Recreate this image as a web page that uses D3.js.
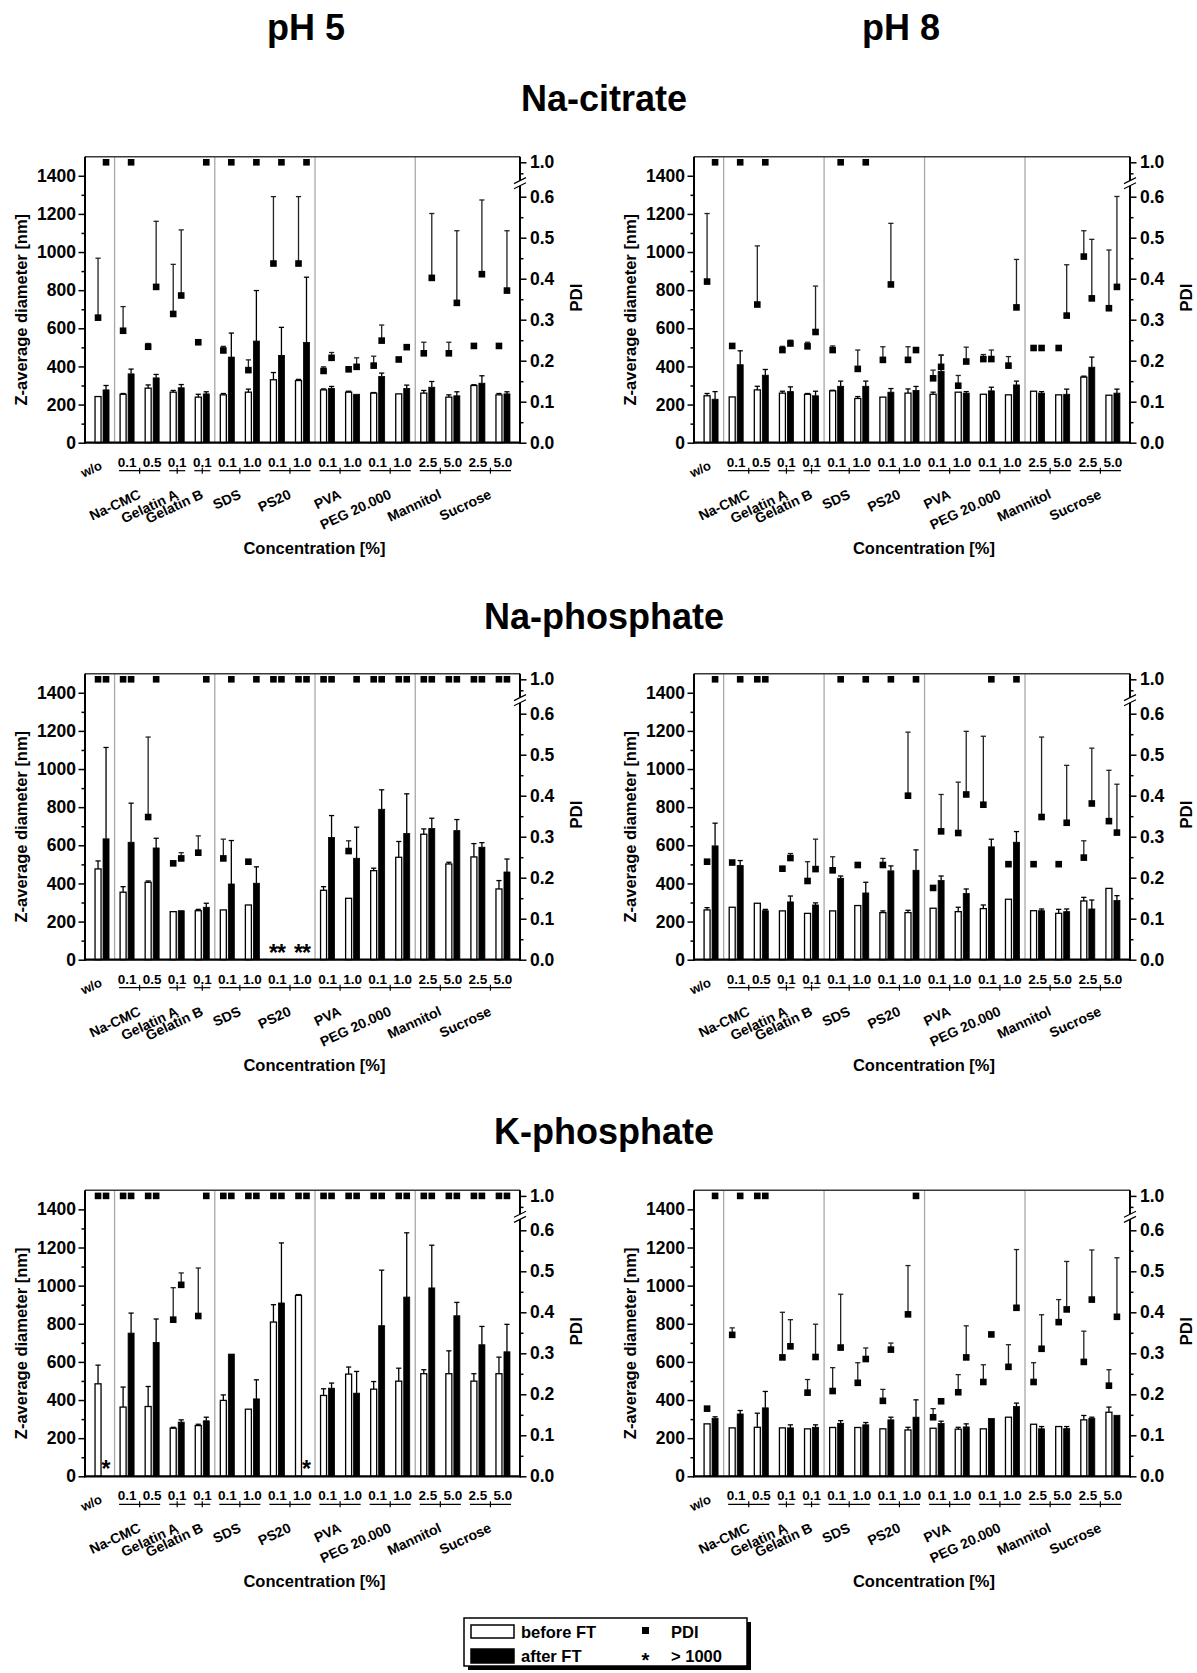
<!DOCTYPE html>
<html><head><meta charset="utf-8">
<script src="https://cdn.jsdelivr.net/npm/d3@7/dist/d3.min.js"></script>
<style>
body{margin:0;background:#fff}
svg text{font-family:"Liberation Sans",Arial,Helvetica,sans-serif;font-weight:bold;fill:#000}
</style>
</head><body>
<svg id="c" width="1197" height="1673"></svg>
<script>
// ---------- categories / labels ----------
const categories = ["w/o","0.1","0.5","0.1","0.1","0.1","1.0","0.1","1.0","0.1","1.0","0.1","1.0","2.5","5.0","2.5","5.0"];
const excipients = ["Na-CMC","Gelatin A","Gelatin B","SDS","PS20","PVA","PEG 20.000","Mannitol","Sucrose"];
const excipientMembers = [[1,2],[3],[4],[5,6],[7,8],[9,10],[11,12],[13,14],[15,16]];
const separatorsAfter = [0,4,8,12];
const zTicks = [0,200,400,600,800,1000,1200,1400];
const zMinorTicks = [100,300,500,700,900,1100,1300];
const pdiTicks = [0,0.1,0.2,0.3,0.4,0.5,0.6,1.0];
const pdiMinorTicks = [0.05,0.15,0.25,0.35,0.45,0.55,0.95];
const columnTitles = ["pH 5","pH 8"];
const bufferTitles = ["Na-citrate","Na-phosphate","K-phosphate"];
const legendLabels = ["before FT","after FT","PDI","> 1000"];

// ---------- Na-citrate pH 5 ----------
const citrate5_zBefore    = [242,254,286,265,239,251,265,330,326,277,265,260,256,260,239,300,251];
const citrate5_zBeforeUp  = [null,258,303,274,254,258,281,368,332,282,270,263,null,274,251,304,258];
const citrate5_zAfter     = [277,361,340,288,256,449,533,458,526,284,254,347,284,291,246,312,256];
const citrate5_zAfterUp   = [300,386,358,305,267,575,798,605,868,295,null,365,302,321,267,351,267];
const citrate5_pdiBefore  = [0.305,0.273,0.234,0.314,0.245,0.225,0.177,0.437,0.437,0.175,0.179,0.188,0.203,0.218,0.218,0.236,0.236];
const citrate5_pdiBeforeUp= [0.45,0.332,0.242,0.435,null,0.235,0.202,0.602,0.602,0.185,null,0.211,null,0.245,0.245,null,null];
const citrate5_pdiAfter   = [1,1,0.38,0.359,1,1,1,1,1,0.207,0.185,0.249,0.233,0.402,0.341,0.411,0.371];
const citrate5_pdiAfterUp = [null,null,0.54,0.519,null,null,null,null,null,0.22,0.207,0.287,null,0.559,0.517,0.592,0.517];

// ---------- Na-citrate pH 8 ----------
const citrate8_zBefore    = [246,240,277,260,254,272,232,239,260,254,265,254,251,270,251,344,249];
const citrate8_zBeforeUp  = [258,null,296,270,258,275,242,null,282,265,null,null,null,null,null,349,null];
const citrate8_zAfter     = [228,409,354,268,246,296,296,265,274,374,260,272,303,260,254,396,260];
const citrate8_zAfterUp   = [268,482,384,293,270,323,323,284,295,460,268,291,323,268,281,449,281];
const citrate8_pdiBefore  = [0.393,0.236,0.337,0.226,0.235,0.226,0.18,0.202,0.202,0.157,0.139,0.204,0.188,0.231,0.231,0.454,0.328];
const citrate8_pdiBeforeUp= [0.559,null,0.48,0.235,0.245,0.236,0.226,0.234,0.234,0.177,0.164,0.215,0.21,null,null,0.517,0.47];
const citrate8_pdiAfter   = [1,1,1,0.242,0.27,1,1,0.386,0.226,0.185,0.198,0.204,0.33,0.231,0.31,0.352,0.38];
const citrate8_pdiAfterUp = [null,null,null,0.25,0.382,null,null,0.535,null,0.213,0.233,0.226,0.447,0.236,0.434,0.496,0.606];

// ---------- Na-phosphate pH 5 ----------
const naphos5_zBefore     = [476,354,406,252,257,261,287,null,null,364,322,467,537,658,502,539,371];
const naphos5_zBeforeUp   = [518,383,413,null,264,null,null,null,null,383,null,480,620,686,511,609,415];
const naphos5_zAfter      = [634,616,586,257,275,397,401,null,null,641,532,789,662,688,677,590,460];
const naphos5_zAfterUp    = [1113,821,637,null,296,625,487,null,null,756,695,891,870,742,735,614,528];
const naphos5_pdiBefore   = [1,1,0.348,0.235,0.261,0.247,0.239,1,1,1,0.265,1,1,1,1,1,1];
const naphos5_pdiBeforeUp = [null,null,0.543,null,0.302,0.294,null,null,null,null,0.29,null,null,null,null,null,null];
const naphos5_pdiAfter    = [1,1,1,0.247,1,1,1,1,1,1,1,1,1,1,1,1,1];
const naphos5_pdiAfterUp  = [null,null,null,0.261,null,null,null,null,null,null,null,null,null,null,null,null,null];

// ---------- Na-phosphate pH 8 ----------
const naphos8_zBefore     = [261,275,296,256,243,256,284,247,247,270,252,268,317,257,243,308,374];
const naphos8_zBeforeUp   = [273,null,null,null,null,null,null,256,259,null,275,287,null,null,264,327,null];
const naphos8_zAfter      = [597,494,257,303,287,427,350,466,469,415,347,592,616,257,252,266,310];
const naphos8_zAfterUp    = [716,520,264,334,298,439,406,492,576,439,371,632,672,266,266,313,336];
const naphos8_pdiBefore   = [0.239,0.237,1,0.222,0.192,0.218,0.231,0.231,0.4,0.175,0.309,0.378,0.233,0.233,0.233,0.249,0.338];
const naphos8_pdiBeforeUp = [null,null,null,null,0.239,0.251,null,0.247,0.555,null,0.433,0.545,null,null,null,0.29,0.462];
const naphos8_pdiAfter    = [1,1,1,0.248,0.221,1,1,1,1,0.313,0.403,1,1,0.348,0.334,0.381,0.31];
const naphos8_pdiAfterUp  = [null,null,null,0.259,0.294,null,null,null,null,0.403,0.557,null,null,0.543,0.474,0.516,0.428];

// ---------- K-phosphate pH 5 ----------
const kphos5_zBefore      = [485,363,366,252,266,398,352,809,949,424,536,457,499,538,538,499,538];
const kphos5_zBeforeUp    = [583,468,471,257,273,427,null,900,953,459,573,497,567,559,658,538,625];
const kphos5_zAfter       = [null,751,702,284,291,641,406,909,null,462,436,790,940,988,842,690,653];
const kphos5_zAfterUp     = [null,856,825,296,310,null,506,1224,null,489,550,1081,1277,1212,912,786,797];
const kphos5_pdiBefore    = [1,1,1,0.382,0.391,1,1,1,1,1,1,1,1,1,1,1,1];
const kphos5_pdiBeforeUp  = [null,null,null,0.46,0.508,null,null,null,null,null,null,null,null,null,null,null,null];
const kphos5_pdiAfter     = [1,1,1,0.467,1,1,1,1,1,1,1,1,1,1,1,1,1];
const kphos5_pdiAfterUp   = [null,null,null,0.496,null,null,null,null,null,null,null,null,null,null,null,null,null];

// ---------- K-phosphate pH 8 ----------
const kphos8_zBefore      = [275,254,257,254,249,256,256,249,243,252,247,249,310,273,261,296,336];
const kphos8_zBeforeUp    = [null,null,331,null,null,null,null,null,257,null,257,null,null,null,null,319,363];
const kphos8_zAfter       = [303,327,359,254,257,278,270,296,310,277,259,303,366,249,250,303,320];
const kphos8_zAfterUp     = [312,345,445,270,270,292,282,310,401,289,275,null,384,261,261,310,null];
const kphos8_pdiBefore    = [0.165,0.345,1,0.29,0.204,0.208,0.228,0.184,0.395,0.144,0.205,0.23,0.267,0.23,0.376,0.279,0.221];
const kphos8_pdiBeforeUp  = [null,0.362,null,0.4,0.236,0.265,0.277,0.212,0.514,0.165,0.248,0.272,0.321,0.277,0.431,0.354,0.26];
const kphos8_pdiAfter     = [1,1,1,0.317,0.291,0.314,0.286,0.309,1,0.183,0.29,0.346,0.411,0.311,0.407,0.431,0.389];
const kphos8_pdiAfterUp   = [null,null,null,0.382,0.371,0.444,0.313,0.325,null,null,0.367,null,0.553,0.394,0.524,0.552,0.533];

const panels = [
  {row:0,col:0,zb:citrate5_zBefore,zbu:citrate5_zBeforeUp,za:citrate5_zAfter,zau:citrate5_zAfterUp,pb:citrate5_pdiBefore,pbu:citrate5_pdiBeforeUp,pa:citrate5_pdiAfter,pau:citrate5_pdiAfterUp},
  {row:0,col:1,zb:citrate8_zBefore,zbu:citrate8_zBeforeUp,za:citrate8_zAfter,zau:citrate8_zAfterUp,pb:citrate8_pdiBefore,pbu:citrate8_pdiBeforeUp,pa:citrate8_pdiAfter,pau:citrate8_pdiAfterUp},
  {row:1,col:0,zb:naphos5_zBefore,zbu:naphos5_zBeforeUp,za:naphos5_zAfter,zau:naphos5_zAfterUp,pb:naphos5_pdiBefore,pbu:naphos5_pdiBeforeUp,pa:naphos5_pdiAfter,pau:naphos5_pdiAfterUp},
  {row:1,col:1,zb:naphos8_zBefore,zbu:naphos8_zBeforeUp,za:naphos8_zAfter,zau:naphos8_zAfterUp,pb:naphos8_pdiBefore,pbu:naphos8_pdiBeforeUp,pa:naphos8_pdiAfter,pau:naphos8_pdiAfterUp},
  {row:2,col:0,zb:kphos5_zBefore,zbu:kphos5_zBeforeUp,za:kphos5_zAfter,zau:kphos5_zAfterUp,pb:kphos5_pdiBefore,pbu:kphos5_pdiBeforeUp,pa:kphos5_pdiAfter,pau:kphos5_pdiAfterUp},
  {row:2,col:1,zb:kphos8_zBefore,zbu:kphos8_zBeforeUp,za:kphos8_zAfter,zau:kphos8_zAfterUp,pb:kphos8_pdiBefore,pbu:kphos8_pdiBeforeUp,pa:kphos8_pdiAfter,pau:kphos8_pdiAfterUp}
];

// ---------- layout ----------
const colX = [[85,520],[694,1130]];
const rowZero = [442.7, 959.7, 1476.3];
const plotH = 286;
const svg = d3.select("#c");

function errBar(g, cx, y1, y2, color){
  g.append("line").attr("x1",cx).attr("x2",cx).attr("y1",y1).attr("y2",y2).attr("stroke",color).attr("stroke-width",1.3);
  g.append("line").attr("x1",cx-2.6).attr("x2",cx+2.6).attr("y1",y2).attr("y2",y2).attr("stroke",color).attr("stroke-width",1.3);
}

function drawPanel(p){
  const [x0,x1] = colX[p.col];
  const zero = rowZero[p.row];
  const top = zero - plotH;
  const g = svg.append("g");
  const x = d3.scalePoint().domain(d3.range(categories.length)).range([x0,x1]).padding(0.68);
  const y = d3.scaleLinear().domain([0,1500]).range([zero, top]);
  const pdi = d3.scaleLinear().domain([0,0.6,0.9,1.0]).range([zero, zero-246, zero-258.4, zero-280.4]);
  const offB = -4, offA = 4, bw = 6;

  // separators
  separatorsAfter.forEach(i=>{
    const sx = (x(i)+x(i+1))/2;
    g.append("line").attr("x1",sx).attr("x2",sx).attr("y1",top).attr("y2",zero).attr("stroke","#a8a8a8").attr("stroke-width",1.3);
  });
  // top frame
  g.append("line").attr("x1",x0).attr("x2",x1).attr("y1",top).attr("y2",top).attr("stroke","#3a3a3a").attr("stroke-width",1.6);

  // bars
  categories.forEach((c,i)=>{
    const cx = x(i);
    if(p.zb[i]!=null){
      if(p.zbu[i]!=null) errBar(g, cx+offB, y(p.zb[i]), y(p.zbu[i]), "#000");
      g.append("rect").attr("x",cx+offB-bw/2).attr("width",bw).attr("y",y(p.zb[i])).attr("height",zero-y(p.zb[i]))
        .attr("fill","#fff").attr("stroke","#000").attr("stroke-width",1.3);
    } else {
      g.append("text").attr("x",cx+offB).attr("y",zero+1).attr("text-anchor","middle").style("font-size","23px").text("*");
    }
    if(p.za[i]!=null){
      if(p.zau[i]!=null) errBar(g, cx+offA, y(p.za[i]), y(p.zau[i]), "#000");
      g.append("rect").attr("x",cx+offA-bw/2).attr("width",bw).attr("y",y(p.za[i])).attr("height",zero-y(p.za[i]))
        .attr("fill","#000").attr("stroke","#000").attr("stroke-width",0.8);
    } else {
      g.append("text").attr("x",cx+offA).attr("y",zero+1).attr("text-anchor","middle").style("font-size","23px").text("*");
    }
  });
  // PDI points
  categories.forEach((c,i)=>{
    const cx = x(i);
    [[p.pb,p.pbu,offB],[p.pa,p.pau,offA]].forEach(([v,u,o])=>{
      if(v[i]==null) return;
      if(u[i]!=null) errBar(g, cx+o, pdi(v[i]), pdi(u[i]), "#222");
      g.append("rect").attr("x",cx+o-3.3).attr("y",pdi(v[i])-3.3).attr("width",6.6).attr("height",6.6).attr("fill","#000");
    });
  });

  // left axis
  const gl = g.append("g").attr("transform",`translate(${x0},0)`);
  gl.call(d3.axisLeft(y).tickValues(zTicks).tickFormat(d3.format("d")).tickSize(6.5).tickPadding(2.5).tickSizeOuter(0));
  gl.append("g").call(d3.axisLeft(y).tickValues(zMinorTicks).tickSize(3.5).tickFormat("").tickSizeOuter(0));
  gl.selectAll(".domain").remove();
  gl.selectAll(".tick line").attr("stroke","#000").attr("stroke-width",1.5);
  gl.selectAll(".tick text").style("font-size","17.5px").attr("font-family",null).attr("font-size",null);
  g.append("line").attr("x1",x0).attr("x2",x0).attr("y1",top).attr("y2",zero+1).attr("stroke","#000").attr("stroke-width",2);

  // right axis
  const gr = g.append("g").attr("transform",`translate(${x1},0)`);
  gr.call(d3.axisRight(pdi).tickValues(pdiTicks).tickFormat(d3.format(".1f")).tickSize(6.5).tickPadding(3.5).tickSizeOuter(0));
  gr.append("g").call(d3.axisRight(pdi).tickValues(pdiMinorTicks).tickSize(3.5).tickFormat("").tickSizeOuter(0));
  gr.selectAll(".domain").remove();
  gr.selectAll(".tick line").attr("stroke","#000").attr("stroke-width",1.5);
  gr.selectAll(".tick text").style("font-size","17.5px").attr("font-family",null).attr("font-size",null);
  g.append("line").attr("x1",x1).attr("x2",x1).attr("y1",top).attr("y2",zero+1).attr("stroke","#000").attr("stroke-width",2);
  // axis break
  const b = zero - 259.5;
  g.append("rect").attr("x",x1-3).attr("y",b-2.6).attr("width",6).attr("height",5.2).attr("fill","#fff");
  [-2.6,2.6].forEach(o=>{
    g.append("line").attr("x1",x1-6).attr("x2",x1+6).attr("y1",b+o+3).attr("y2",b+o-3).attr("stroke","#000").attr("stroke-width",1.2);
  });

  // bottom axis
  g.append("line").attr("x1",x0-1).attr("x2",x1+1).attr("y1",zero).attr("y2",zero).attr("stroke","#000").attr("stroke-width",2.2);

  // category labels
  categories.forEach((c,i)=>{
    if(i===0){
      g.append("text").attr("text-anchor","end").attr("transform",`translate(${x(i)+1},${zero+26}) rotate(-25)`).style("font-size","13px").text(c);
    } else {
      g.append("text").attr("x",x(i)).attr("y",zero+24).attr("text-anchor","middle").style("font-size","13.5px").text(c);
    }
  });
  excipients.forEach((name,k)=>{
    const m = excipientMembers[k];
    const xa = x(m[0])-8, xb = x(m[m.length-1])+8, mid=(xa+xb)/2;
    g.append("line").attr("x1",xa).attr("x2",xb).attr("y1",zero+28).attr("y2",zero+28).attr("stroke","#000").attr("stroke-width",1.2);
    g.append("line").attr("x1",mid).attr("x2",mid).attr("y1",zero+25).attr("y2",zero+31).attr("stroke","#000").attr("stroke-width",1.2);
    g.append("text").attr("text-anchor","end").attr("transform",`translate(${mid+2},${zero+55}) rotate(-25)`).style("font-size","14px").text(name);
  });

  // axis titles
  const mid = (top+zero)/2;
  g.append("text").attr("text-anchor","middle").attr("transform",`translate(${x0-58},${mid+10}) rotate(-90)`).style("font-size","16.5px").text("Z-average diameter [nm]");
  g.append("text").attr("text-anchor","middle").attr("transform",`translate(${x1+62},${mid-2}) rotate(-90)`).style("font-size","17px").text("PDI");
  g.append("text").attr("text-anchor","middle").attr("x",(x0+x1)/2+12).attr("y",zero+111).style("font-size","16.5px").text("Concentration [%]");
}

panels.forEach(drawPanel);

// titles
const colTitleX = [306, 901];
columnTitles.forEach((t,i)=>svg.append("text").attr("x",colTitleX[i]).attr("y",40).attr("text-anchor","middle").style("font-size","36px").text(t));
const bufTitleY = [111, 629, 1144];
bufferTitles.forEach((t,i)=>svg.append("text").attr("x",604).attr("y",bufTitleY[i]).attr("text-anchor","middle").style("font-size","36px").text(t));

// legend
const lg = svg.append("g");
lg.append("rect").attr("x",468).attr("y",1622).attr("width",283).attr("height",48).attr("fill","#000");
lg.append("rect").attr("x",464).attr("y",1618).attr("width",283).attr("height",48).attr("fill","#fff").attr("stroke","#000").attr("stroke-width",1.5);
lg.append("rect").attr("x",471).attr("y",1625).attr("width",43).attr("height",13).attr("fill","#fff").attr("stroke","#000").attr("stroke-width",1.5);
lg.append("rect").attr("x",471).attr("y",1649).attr("width",43).attr("height",14).attr("fill","#000").attr("stroke","#000").attr("stroke-width",1.5);
lg.append("text").attr("x",521).attr("y",1638).style("font-size","16.5px").text(legendLabels[0]);
lg.append("text").attr("x",521).attr("y",1662).style("font-size","16.5px").text(legendLabels[1]);
lg.append("rect").attr("x",642).attr("y",1627).attr("width",7).attr("height",7).attr("fill","#000");
lg.append("text").attr("x",645.5).attr("y",1667).attr("text-anchor","middle").style("font-size","20px").text("*");
lg.append("text").attr("x",671).attr("y",1638).style("font-size","16.5px").text(legendLabels[2]);
lg.append("text").attr("x",671).attr("y",1662).style("font-size","16.5px").text(legendLabels[3]);
</script>
</body></html>
